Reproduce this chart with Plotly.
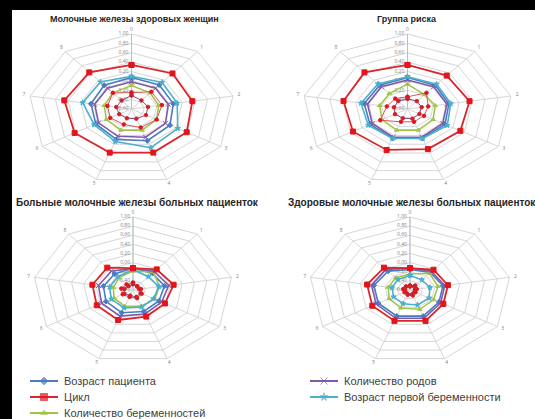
import numpy as np
import plotly.graph_objects as go

W, H = 535, 419

# Category axes (9 spokes) and the radial scale of every radar panel
categories = ["0", "1", "2", "3", "4", "5", "6", "7", "8"]
radial_ticks = [-0.6, -0.4, -0.2, 0.0, 0.2, 0.4, 0.6, 0.8, 1.0]
R_MIN, R_MAX = -0.6, 1.0

series_names = [
    "Возраст пациента",
    "Цикл",
    "Количество беременностей",
    "Количество родов",
    "Возраст первой беременности",
]

panel_titles = [
    "Молочные железы здоровых женщин",
    "Группа риска",
    "Больные молочные железы больных пациенток",
    "Здоровые молочные железы больных пациенток",
]

# Panel 1 - healthy women
p1_age = [0.07, 0.07, 0.06, 0.09, 0.12, 0.09, 0.04, 0.04, 0.06]
p1_cycle = [0.34, 0.39, 0.36, 0.39, 0.39, 0.39, 0.42, 0.46, 0.42]
p1_preg = [-0.10, -0.15, -0.17, -0.15, -0.12, -0.12, -0.15, -0.17, -0.15]
p1_births = [-0.02, -0.02, -0.02, 0.01, 0.04, 0.02, -0.01, -0.02, -0.02]
p1_first = [0.10, 0.14, 0.12, 0.23, 0.28, 0.14, 0.07, 0.17, 0.15]
p1_extra_a = [-0.25, -0.12, -0.12, -0.15, -0.18, -0.25, -0.22, -0.22, -0.15]
p1_extra_b = [-0.31, -0.36, -0.34, -0.34, -0.38, -0.39, -0.38, -0.36, -0.36]

# Panel 2 - risk group
p2_age = [0.07, 0.06, 0.04, 0.06, 0.06, 0.06, 0.06, 0.07, 0.06]
p2_cycle = [0.34, 0.33, 0.36, 0.33, 0.31, 0.33, 0.36, 0.39, 0.42]
p2_preg = [-0.07, -0.20, -0.17, -0.15, -0.12, -0.12, -0.15, -0.17, -0.17]
p2_births = [0.02, 0.02, 0.01, 0.02, 0.04, 0.04, 0.02, 0.02, 0.02]
p2_first = [0.09, 0.09, 0.07, 0.10, 0.07, 0.07, 0.09, 0.12, 0.10]
p2_extra_a = [-0.34, -0.15, -0.28, -0.31, -0.31, -0.31, -0.12, -0.28, -0.31]
p2_extra_b = [-0.38, -0.38, -0.38, -0.39, -0.38, -0.39, -0.38, -0.39, -0.38]

# Panel 3 - affected glands of patients
p3_age = [-0.12, -0.12, -0.09, -0.12, -0.10, -0.07, -0.10, -0.12, -0.14]
p3_cycle = [-0.12, -0.01, 0.06, -0.01, 0.02, 0.10, 0.07, 0.06, 0.04]
p3_preg = [-0.18, -0.09, -0.17, -0.20, -0.22, -0.22, -0.25, -0.28, -0.25]
p3_births = [-0.12, -0.07, -0.02, -0.07, -0.04, 0.01, -0.02, -0.04, -0.06]
p3_first = [-0.15, -0.22, -0.18, -0.22, -0.20, -0.18, -0.20, -0.22, -0.22]
p3_extra_a = [-0.44, -0.49, -0.50, -0.44, -0.41, -0.44, -0.41, -0.41, -0.44]
p3_extra_b = [-0.47, -0.50, -0.47, -0.46, -0.44, -0.47, -0.44, -0.46, -0.49]

# Panel 4 - healthy glands of patients
p4_age = [-0.15, -0.10, -0.07, -0.07, 0.01, 0.01, -0.02, -0.02, -0.06]
p4_cycle = [-0.12, -0.02, 0.01, 0.01, 0.12, 0.12, 0.09, 0.09, 0.04]
p4_preg = [-0.25, -0.12, -0.15, -0.17, -0.15, -0.18, -0.22, -0.25, -0.25]
p4_births = [-0.12, -0.07, -0.04, -0.04, 0.06, 0.06, 0.02, 0.02, -0.01]
p4_first = [-0.28, -0.31, -0.28, -0.25, -0.25, -0.28, -0.30, -0.31, -0.30]
p4_extra_a = [-0.50, -0.47, -0.49, -0.50, -0.47, -0.49, -0.50, -0.49, -0.50]
p4_extra_b = [-0.52, -0.50, -0.52, -0.52, -0.50, -0.50, -0.52, -0.52, -0.50]

panel_series = [
    [p1_age, p1_cycle, p1_preg, p1_births, p1_first, p1_extra_a, p1_extra_b],
    [p2_age, p2_cycle, p2_preg, p2_births, p2_first, p2_extra_a, p2_extra_b],
    [p3_age, p3_cycle, p3_preg, p3_births, p3_first, p3_extra_a, p3_extra_b],
    [p4_age, p4_cycle, p4_preg, p4_births, p4_first, p4_extra_a, p4_extra_b],
]

# Panel geometry in pixels: centre and horizontal / vertical radius
panels = [
    dict(cx=131.5, cy=109, a=103, b=75, title_y=19, title_x=134, title_size=9),
    dict(cx=407.5, cy=109, a=105, b=75, title_y=19, title_x=407, title_size=9),
    dict(cx=133, cy=290, a=100, b=73, title_y=203, title_x=137, title_size=10),
    dict(cx=410, cy=290, a=101, b=73, title_y=203, title_x=412, title_size=10),
]

styles = [
    dict(color="#4A7CC2", width=1.6, symbol="diamond", msize=4, mcolor="#4A7CC2"),
    dict(color="#D9262B", width=1.8, symbol="square", msize=5, mcolor="#E3141B"),
    dict(color="#A3C44C", width=1.6, symbol="triangle-up", msize=4, mcolor="#A3C44C"),
    dict(color="#7D5BA8", width=1.6, symbol="x-thin-open", msize=5, mcolor="#7D5BA8"),
    dict(color="#4BB0CC", width=1.6, symbol="star", msize=4, mcolor="#4BB0CC"),
    dict(color="#D9575A", width=1.0, symbol="circle", msize=3.5, mcolor="#E3141B"),
    dict(color="#8A4A88", width=1.0, symbol="circle", msize=3.5, mcolor="#D0202A"),
]
draw_order = [0, 2, 3, 4, 5, 6, 1]

theta = np.deg2rad(np.arange(len(categories)) * 360 / len(categories))
SPAN = 1.15
LABEL_R = 1.06


def frac(v):
    return (np.asarray(v, dtype=float) - R_MIN) / (R_MAX - R_MIN)


def ring_xy(values):
    f = frac(values)
    x = np.append(f * np.sin(theta), f[0] * np.sin(theta[0]))
    y = np.append(f * np.cos(theta), f[0] * np.cos(theta[0]))
    return x, y


fig = go.Figure()
layout_axes = {}

for k, (p, data) in enumerate(zip(panels, panel_series)):
    sfx = "" if k == 0 else str(k + 1)
    xa, ya = "x" + sfx, "y" + sfx
    layout_axes["xaxis" + sfx] = dict(
        domain=[(p["cx"] - SPAN * p["a"]) / W, (p["cx"] + SPAN * p["a"]) / W],
        range=[-SPAN, SPAN], visible=False, fixedrange=True, anchor=ya,
    )
    layout_axes["yaxis" + sfx] = dict(
        domain=[1 - (p["cy"] + SPAN * p["b"]) / H, 1 - (p["cy"] - SPAN * p["b"]) / H],
        range=[-SPAN, SPAN], visible=False, fixedrange=True, anchor=xa,
    )

    # concentric grid polygons
    for t in radial_ticks[1:]:
        gx, gy = ring_xy([t] * len(categories))
        fig.add_trace(go.Scatter(x=gx, y=gy, mode="lines", xaxis=xa, yaxis=ya,
                                 line=dict(color="#D6D6D6", width=1),
                                 hoverinfo="skip", showlegend=False))
    # spokes
    sx, sy = [], []
    for th in theta:
        sx += [0, np.sin(th), None]
        sy += [0, np.cos(th), None]
    fig.add_trace(go.Scatter(x=sx, y=sy, mode="lines", xaxis=xa, yaxis=ya,
                             line=dict(color="#D6D6D6", width=1),
                             hoverinfo="skip", showlegend=False))
    # radial axis line and tick labels
    fig.add_trace(go.Scatter(x=[0, 0], y=[0, 1], mode="lines", xaxis=xa, yaxis=ya,
                             line=dict(color="#BDBDBD", width=1),
                             hoverinfo="skip", showlegend=False))
    fig.add_trace(go.Scatter(
        x=[-0.03] * len(radial_ticks), y=list(frac(radial_ticks)),
        mode="text", text=[f"{t:.2f}".replace(".", ",") for t in radial_ticks],
        textposition="middle left", textfont=dict(size=5, color="#7F7F7F"),
        xaxis=xa, yaxis=ya, hoverinfo="skip", showlegend=False, cliponaxis=False))
    # category labels
    fig.add_trace(go.Scatter(
        x=list(LABEL_R * np.sin(theta)), y=list(LABEL_R * np.cos(theta)),
        mode="text", text=categories, textfont=dict(size=5, color="#7F7F7F"),
        xaxis=xa, yaxis=ya, hoverinfo="skip", showlegend=False, cliponaxis=False))

    # data series
    for i in draw_order:
        st = styles[i]
        dx, dy = ring_xy(data[i])
        fig.add_trace(go.Scatter(
            x=dx, y=dy, mode="lines+markers", xaxis=xa, yaxis=ya,
            name=series_names[i] if i < len(series_names) else f"Ряд {i + 1}",
            line=dict(color=st["color"], width=st["width"]),
            marker=dict(symbol=st["symbol"], size=st["msize"], color=st["mcolor"],
                        line=dict(color=st["mcolor"], width=1)),
            showlegend=False, cliponaxis=False,
        ))

# Legend drawn on its own pixel-space axes along the bottom strip
LEG_TOP = 366
layout_axes["xaxis5"] = dict(domain=[0, 1], range=[0, W], visible=False,
                             fixedrange=True, anchor="y5")
layout_axes["yaxis5"] = dict(domain=[0, (H - LEG_TOP) / H], range=[H, LEG_TOP],
                             visible=False, fixedrange=True, anchor="x5")
legend_slots = [(30, 381), (30, 397), (30, 413), (310, 381), (310, 397)]
legend_font = dict(size=11, color="#404040", family="Liberation Sans, Arial")
annotations = []
for i, (lx, ly) in enumerate(legend_slots):
    st = styles[i]
    fig.add_trace(go.Scatter(
        x=[lx, lx + 14, lx + 28], y=[ly, ly, ly], mode="lines+markers",
        xaxis="x5", yaxis="y5", name=series_names[i],
        line=dict(color=st["color"], width=2),
        marker=dict(symbol=st["symbol"], size=[0, st["msize"] + 2, 0],
                    color=st["mcolor"], line=dict(color=st["mcolor"], width=1)),
        hoverinfo="skip", showlegend=False, cliponaxis=False))
    annotations.append(dict(
        text=series_names[i], x=(lx + 32) / W, y=1 - ly / H, xref="paper", yref="paper",
        showarrow=False, xanchor="left", yanchor="middle", font=legend_font))

for p, title in zip(panels, panel_titles):
    annotations.append(dict(
        text=f"<b>{title}</b>", x=p["title_x"] / W, y=1 - p["title_y"] / H,
        xref="paper", yref="paper", showarrow=False, xanchor="center", yanchor="middle",
        font=dict(size=p["title_size"], color="#262626", family="Liberation Sans, Arial"),
    ))

shapes = [
    dict(type="rect", xref="paper", yref="paper", x0=0, x1=12 / W, y0=0, y1=1,
         fillcolor="black", line=dict(width=0), layer="above"),
    dict(type="rect", xref="paper", yref="paper", x0=0, x1=1, y0=1 - 10 / H, y1=1,
         fillcolor="black", line=dict(width=0), layer="above"),
]

fig.update_layout(
    width=W, height=H,
    margin=dict(l=0, r=0, t=0, b=0),
    paper_bgcolor="white", plot_bgcolor="rgba(0,0,0,0)",
    annotations=annotations, shapes=shapes, showlegend=False,
    **layout_axes,
)

fig.write_html("out.html")
